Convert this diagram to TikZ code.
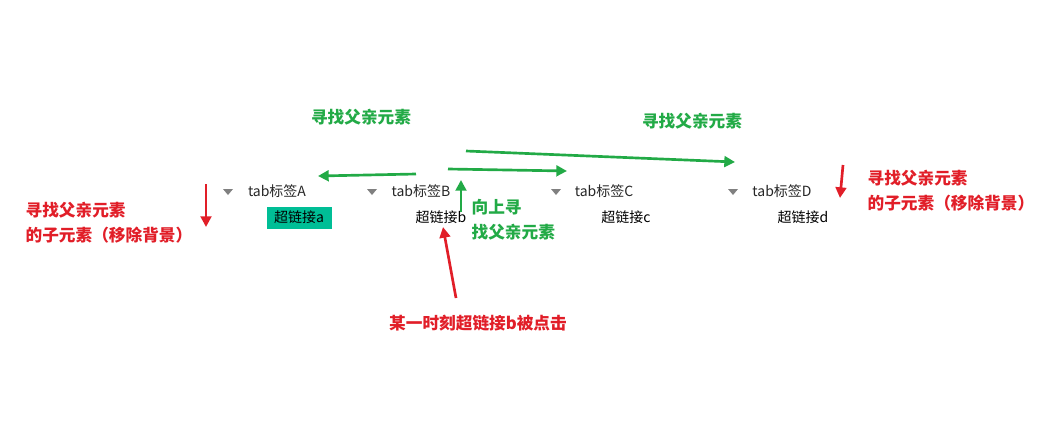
\documentclass[tikz,border=0pt]{standalone}
\usepackage{fontspec}
\setmainfont{Liberation Sans}
\newfontfamily\cjk{Noto Sans CJK SC}
\usetikzlibrary{arrows.meta}
\definecolor{tealbg}{RGB}{0,190,150}
\definecolor{annogreen}{RGB}{34,170,70}
\definecolor{annored}{RGB}{225,30,40}
\tikzset{
    tablabel/.style={font=\cjk\fontsize{10.5}{12}\selectfont, text=black!85, inner sep=1pt},
    linklabel/.style={font=\cjk\fontsize{10.5}{12}\selectfont, inner sep=1pt},
    greennote/.style={font=\cjk\bfseries\fontsize{12.5}{18.5}\selectfont, text=annogreen, align=left, inner sep=1pt},
    rednote/.style={font=\cjk\bfseries\fontsize{12.5}{18.5}\selectfont, text=annored, align=left, inner sep=1pt},
    garrow/.style={draw=annogreen, line width=2pt, -{Triangle[length=8pt,width=8pt]}},
    rarrow/.style={draw=annored, line width=2pt, -{Triangle[length=8pt,width=8pt]}},
    tri/.style={fill=gray, draw=none}
}
\begin{document}
\begin{tikzpicture}[x=0.75pt,y=-0.75pt]
\useasboundingbox (0,0) rectangle (1047,422);
% tabs
\foreach \tx/\tl in {228/A,372/B,556/C,733/D}
    \fill[tri] (\tx-5,189) -- (\tx+5,189) -- (\tx,195) -- cycle;
\node[tablabel] (tabA) at (277,191) {tab标签A};
\node[tablabel] (tabB) at (421,191) {tab标签B};
\node[tablabel] (tabC) at (604,191) {tab标签C};
\node[tablabel] (tabD) at (782,191) {tab标签D};
% links
\fill[tealbg] (267,207) rectangle (332,229);
\node[linklabel] (linkA) at (299,217) {超链接a};
\node[linklabel] (linkB) at (441,217) {超链接b};
\node[linklabel] (linkC) at (626,217) {超链接c};
\node[linklabel] (linkD) at (803,217) {超链接d};
% notes
\node[greennote] (findL) at (361,117) {寻找父亲元素};
\node[greennote] (findR) at (692,121) {寻找父亲元素};
\node[greennote, anchor=north west] (upfind) at (470,198) {向上寻\\找父亲元素};
\node[rednote, anchor=north west] (childL) at (24,201) {寻找父亲元素\\的子元素（移除背景）};
\node[rednote, anchor=north west] (childR) at (866,169) {寻找父亲元素\\的子元素（移除背景）};
\node[rednote] (clicked) at (478,323) {某一时刻超链接b被点击};
% arrows
\coordinate (gA1) at (416,174); \coordinate (gA2) at (318,176);
\coordinate (gB1) at (448,169); \coordinate (gB2) at (567,171);
\coordinate (gC1) at (466,151); \coordinate (gC2) at (735,162);
\coordinate (gU1) at (461,212); \coordinate (gU2) at (461,180);
\coordinate (rL1) at (206,184); \coordinate (rL2) at (206,227);
\coordinate (rR1) at (843,165); \coordinate (rR2) at (840,198);
\coordinate (rC1) at (456,298); \coordinate (rC2) at (443,227);
\draw[garrow] (gA1) -- (gA2);
\draw[garrow] (gB1) -- (gB2);
\draw[garrow] (gC1) -- (gC2);
\draw[garrow] (gU1) -- (gU2);
\draw[rarrow] (rL1) -- (rL2);
\draw[rarrow] (rR1) -- (rR2);
\draw[rarrow] (rC1) -- (rC2);
\end{tikzpicture}
\end{document}
